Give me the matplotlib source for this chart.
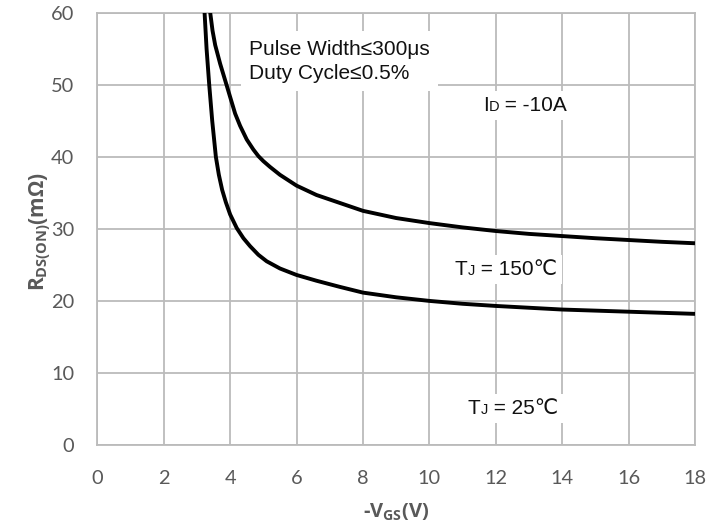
import matplotlib
matplotlib.use("Agg")
import matplotlib.pyplot as plt
from matplotlib.offsetbox import TextArea, HPacker, AnnotationBbox

# ---- data ----
vgs_25c = [3.23, 3.29, 3.37, 3.46, 3.57, 3.66, 3.76, 3.87, 4.0, 4.2, 4.4, 4.6, 4.85, 5.1, 5.5, 6.0,
           6.6, 7.3, 8.0, 9.0, 10.0, 11.0, 12.0, 13.0, 14.0, 15.0, 16.0, 17.0, 18.0]
rds_25c = [60, 55, 50, 45, 40, 37.5, 35.4, 33.7, 32.0, 30.1, 28.7, 27.6, 26.4, 25.5, 24.5, 23.6,
           22.8, 21.95, 21.15, 20.5, 20.0, 19.6, 19.3, 19.05, 18.8, 18.65, 18.5, 18.35, 18.2]
vgs_150c = [3.40, 3.47, 3.55, 3.7, 3.89, 4.0, 4.15, 4.3, 4.5, 4.7, 4.85, 5.0, 5.2, 5.5, 6.0, 6.6,
            7.3, 8.0, 9.0, 10.0, 11.0, 12.0, 13.0, 14.0, 15.0, 16.0, 17.0, 18.0]
rds_150c = [60, 57.5, 55.5, 52.9, 50, 48.3, 46.0, 44.3, 42.4, 41.0, 40.1, 39.4, 38.6, 37.5, 36.0, 34.7,
            33.6, 32.5, 31.5, 30.8, 30.2, 29.7, 29.3, 29.0, 28.7, 28.45, 28.2, 28.0]
x_ticks = [0, 2, 4, 6, 8, 10, 12, 14, 16, 18]
y_ticks = [0, 10, 20, 30, 40, 50, 60]

BOLD = 'Open Sans'
plt.rcParams['mathtext.fontset'] = 'custom'
plt.rcParams['mathtext.rm'] = BOLD
plt.rcParams['mathtext.bf'] = BOLD + ':bold'
plt.rcParams['mathtext.it'] = BOLD + ':italic'

GRID = '#BBBBBB'
TXT = '#595959'
ANN = ['Liberation Sans', 'DejaVu Sans']

fig = plt.figure(figsize=(7.22, 5.27), dpi=100)
ax = fig.add_axes([0.1348, 0.1556, 0.8278, 0.8203])

ax.plot(vgs_25c, rds_25c, color='black', lw=2.8, zorder=5, solid_capstyle='butt')
ax.plot(vgs_150c, rds_150c, color='black', lw=2.8, zorder=5, solid_capstyle='butt')

ax.set_xlim(0, 18)
ax.set_ylim(0, 60)
ax.set_xticks(x_ticks)
ax.set_yticks(y_ticks)
ax.grid(True, color=GRID, lw=1.3)
ax.set_axisbelow(True)
for s in ax.spines.values():
    s.set_color(GRID)
    s.set_linewidth(1.3)
ax.tick_params(length=0, labelsize=14.4, labelcolor=TXT)
ax.tick_params(axis='x', pad=18)
ax.tick_params(axis='y', pad=16.5)
for lab in ax.get_xticklabels() + ax.get_yticklabels():
    lab.set_family('Lato')

fig.text(0.0554, 0.56, r'$\mathbf{R_{DS(ON)}(m\Omega)}$', rotation=90,
         ha='center', va='center', fontsize=15, color=TXT, family=BOLD, fontweight='bold')
fig.text(0.5485, 0.027, r'-$\mathbf{V_{GS}}$(V)', ha='center', va='center',
         fontsize=14.5, color=TXT, family=BOLD, fontweight='bold')

ax.text(4.57, 50.8, 'Pulse Width\u2264300\u03bcs\nDuty Cycle\u22640.5%', ha='left', va='baseline',
        fontsize=15, family=ANN, color='#111111', linespacing=1.35, zorder=4,
        bbox=dict(boxstyle='square,pad=0.4', facecolor='white', edgecolor='none'))


def composite(x, y, parts):
    kids = [TextArea(s, textprops=dict(fontsize=fs, family=ANN, color='#111111')) for s, fs in parts]
    pack = HPacker(children=kids, align='baseline', pad=0, sep=0)
    ab = AnnotationBbox(pack, (x, y), xycoords='data', box_alignment=(0, 0), frameon=True,
                        pad=0.35, bboxprops=dict(facecolor='white', edgecolor='none'), zorder=4)
    ax.add_artist(ab)


composite(11.61, 45.8, [('I', 15), ('D', 10.5), (' = -10A', 15)])
composite(10.77, 23.0, [('T', 15), ('J', 10.5), (' = 150\u2103', 15)])
composite(11.15, 3.7, [('T', 15), ('J', 10.5), (' = 25\u2103', 15)])

fig.savefig('out.png', dpi=100)
